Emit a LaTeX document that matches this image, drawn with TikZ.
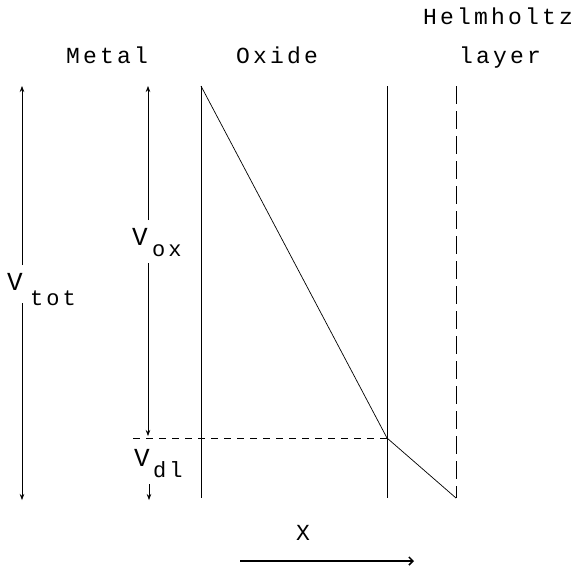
\documentclass[tikz,border=0pt]{standalone}
\usepackage{fontspec}
\newfontfamily\plotfont[LetterSpace=14]{Liberation Mono}
\usetikzlibrary{arrows.meta}
\tikzset{
  lbl/.style={font=\plotfont\fontsize{23}{25}\selectfont, inner sep=0pt},
  bigv/.style={font=\plotfont\fontsize{26}{28}\selectfont, inner sep=0pt},
  sub/.style={font=\plotfont\fontsize{22}{24}\selectfont, inner sep=0pt, anchor=west},
  thin line/.style={line width=0.7pt, black},
  varrow/.style={thin line, -{Stealth[length=6pt,width=4.5pt]}},
  hdash/.style={thin line, dash pattern=on 18pt off 7pt},
  vdash/.style={thin line, dash pattern=on 7pt off 6pt},
}
\begin{document}
\begin{tikzpicture}[x=1pt,y=-1pt]
\useasboundingbox (0,0) rectangle (584,566);
% headings
\node[lbl, anchor=base] (metal) at (107,63) {Metal};
\node[lbl, anchor=base] (oxide) at (277,63) {Oxide};
\node[lbl, anchor=base] (helm) at (498,24) {Helmholtz};
\node[lbl, anchor=base] (layer) at (500,63) {layer};
% coordinates
\coordinate (totT) at (22,86);
\coordinate (totA) at (22,265);
\coordinate (totB) at (22,303);
\coordinate (totE) at (22,500);
\coordinate (oxT) at (148,86);
\coordinate (oxA) at (148,220);
\coordinate (oxB) at (148,263);
\coordinate (oxE) at (148,436);
\coordinate (dlB) at (149,484);
\coordinate (dlE) at (149,500);
\coordinate (o1T) at (201,86);
\coordinate (o1B) at (201,498);
\coordinate (o2T) at (387,86);
\coordinate (o2B) at (387,498);
\coordinate (kink) at (387,438);
\coordinate (hT) at (456,86);
\coordinate (hB) at (456,498);
\coordinate (dashS) at (133,438);
% labels
\node[bigv] (vtot) at (15,282) {V};
\node[sub] (tot) at (30,298) {tot};
\node[bigv] (vox) at (140,237) {V};
\node[sub] (ox) at (152,251) {ox};
\node[bigv] (vdl) at (142,458) {V};
\node[sub] (dl) at (153,470) {dl};
\node[lbl] (xlab) at (303,533) {X};
\coordinate (xS) at (240,561);
\coordinate (xE) at (414,561);
% V_tot arrow
\draw[varrow] (totA) -- (totT);
\draw[varrow] (totB) -- (totE);
% V_ox arrow
\draw[varrow] (oxA) -- (oxT);
\draw[varrow] (oxB) -- (oxE);
% V_dl arrow
\draw[varrow] (dlB) -- (dlE);
% layer boundaries
\draw[thin line] (o1T) -- (o1B);
\draw[thin line] (o2T) -- (o2B);
\draw[hdash] (hT) -- (hB);
% potential profile
\draw[thin line] (o1T) -- (kink) -- (hB);
\draw[vdash] (dashS) -- (kink);
% x axis arrow
\draw[line width=1.5pt, -{Straight Barb[length=4pt,width=8pt]}] (xS) -- (xE);
\end{tikzpicture}
\end{document}
